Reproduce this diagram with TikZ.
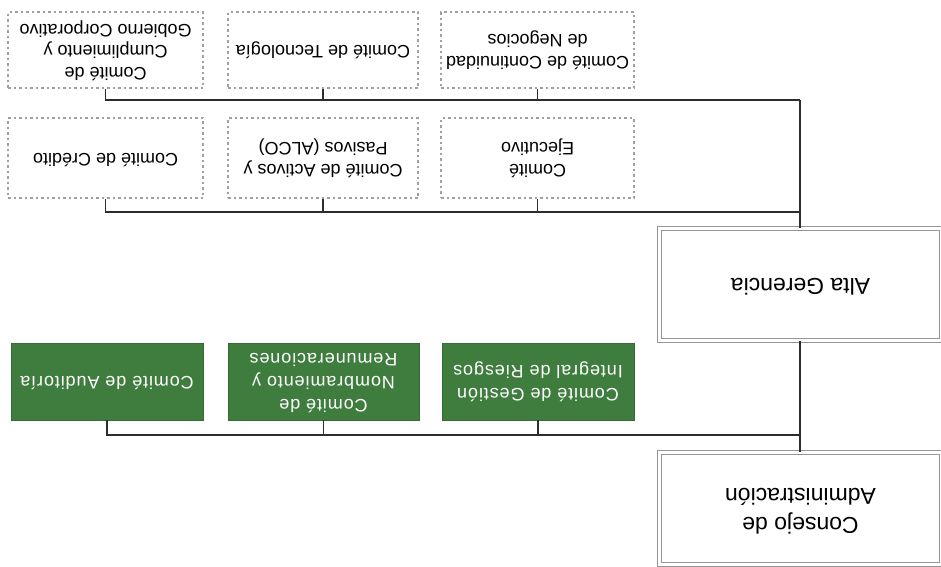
\documentclass[tikz,border=0pt]{standalone}
\usepackage{fontspec}
\setmainfont{Liberation Sans}
\usepackage{graphicx}
\definecolor{gfill}{RGB}{63,125,63}
\definecolor{lncol}{RGB}{45,45,45}
\definecolor{dashcol}{RGB}{160,160,160}
\definecolor{dblcol}{RGB}{150,150,150}
\newcommand{\flipbox}[1]{\rotatebox{180}{\begin{tabular}{@{}c@{}}#1\end{tabular}}}
\begin{document}
\begin{tikzpicture}[x=1pt,y=-1pt,
  dashbox/.style={draw=dashcol, line width=1.5pt, dash pattern=on 2.5pt off 3pt, inner sep=0pt,
    font=\fontsize{18}{21.5}\selectfont},
  greenbox/.style={fill=gfill, draw=gfill!85!black, line width=0.8pt, text=white, inner sep=0pt,
    font=\fontsize{18}{23}\selectfont\addfontfeature{LetterSpace=5}},
  mainbox/.style={draw=dblcol, double=white, double distance=2.6pt, line width=1.2pt, inner sep=0pt,
    minimum width=282pt, minimum height=112pt, font=\fontsize{23}{29}\selectfont},
  conn/.style={draw=lncol, line width=1.8pt}]
\useasboundingbox (0,0) rectangle (941,566);

% top row (dashed)
\node[dashbox, minimum width=195pt, minimum height=76pt] (a1) at (105.5,50)
  {\flipbox{Comité de\\Cumplimiento y\\Gobierno Corporativo}};
\node[dashbox, minimum width=190pt, minimum height=76pt] (a2) at (323,50)
  {\flipbox{Comité de Tecnología}};
\node[dashbox, minimum width=193pt, minimum height=76pt] (a3) at (537.5,50)
  {\flipbox{Comité de Continuidad\\de Negocios}};

% second row (dashed)
\node[dashbox, minimum width=195pt, minimum height=80pt] (b1) at (105.5,158)
  {\flipbox{Comité de Crédito}};
\node[dashbox, minimum width=190pt, minimum height=80pt] (b2) at (323,158)
  {\flipbox{Comité de Activos y\\Pasivos (ALCO)}};
\node[dashbox, minimum width=193pt, minimum height=80pt] (b3) at (537.5,158)
  {\flipbox{Comité\\Ejecutivo}};

% green row
\node[greenbox, minimum width=192pt, minimum height=77pt] (g1) at (107,381.5)
  {\flipbox{Comité de Auditoría}};
\node[greenbox, minimum width=191pt, minimum height=77pt] (g2) at (323.5,381.5)
  {\flipbox{Comité de\\Nombramiento y\\Remuneraciones}};
\node[greenbox, minimum width=192pt, minimum height=77pt] (g3) at (538,381.5)
  {\flipbox{Comité de Gestión\\Integral de Riesgos}};

% main boxes
\node[mainbox] (alta) at (800.5,284.5) {\flipbox{Alta Gerencia}};
\node[mainbox] (consejo) at (800.5,508.5) {\flipbox{Consejo de\\Administración}};

% buses
\coordinate (busA) at (800,100);
\coordinate (busB) at (800,212);
\coordinate (busC) at (800,435);

\draw[conn] (a1.south) |- (busA);
\draw[conn] (a2.south) -- (a2.south |- busA);
\draw[conn] (a3.south) -- (a3.south |- busA);
\draw[conn] (busA) -- (busA |- alta.north);

\draw[conn] (b1.south) |- (busB);
\draw[conn] (b2.south) -- (b2.south |- busB);
\draw[conn] (b3.south) -- (b3.south |- busB);

\draw[conn] (g1.south) |- (busC);
\draw[conn] (g2.south) -- (g2.south |- busC);
\draw[conn] (g3.south) -- (g3.south |- busC);
\draw[conn] (busC |- alta.south) -- (busC |- consejo.north);
\end{tikzpicture}
\end{document}
